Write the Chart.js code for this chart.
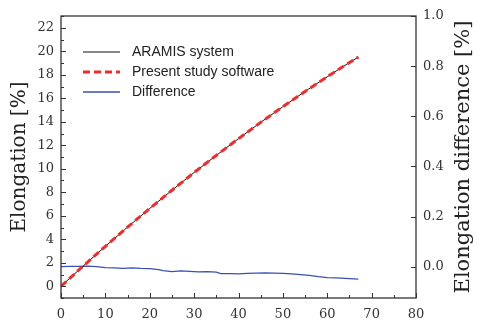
<!DOCTYPE html>
<html>
<head>
<meta charset="utf-8">
<script src="https://cdn.jsdelivr.net/npm/chart.js@4"></script>
<style>
  html, body { margin: 0; padding: 0; background: #fff; }
  #wrap { width: 477px; height: 321px; }
</style>
</head>
<body>
<div id="wrap"><canvas id="chart" width="477" height="321"></canvas></div>
<script>
// elongation curves (left axis, %)
const elongX = [0, 5, 10, 15, 20, 25, 30, 35, 40, 45, 50, 55, 60, 65, 67];
const aramis = [0, 1.72, 3.40, 5.03, 6.62, 8.17, 9.68, 11.14, 12.56, 13.95, 15.28, 16.58, 17.83, 19.04, 19.5];
const present = [0, 1.72, 3.40, 5.03, 6.62, 8.17, 9.68, 11.14, 12.56, 13.95, 15.28, 16.58, 17.83, 19.04, 19.5];

// difference (right axis, %)
const diffX = [0, 2, 4, 6, 8, 10, 12, 14, 16, 18, 20, 22, 23, 25, 27, 29, 31, 33, 35, 36, 38, 40, 42, 44, 46, 48, 50, 52, 54, 56, 58, 60, 62, 64, 66, 67];
const diffY = [0.000, 0.001, 0.001, 0.002, 0.000, -0.004, -0.005, -0.007, -0.005, -0.007, -0.008, -0.012, -0.016, -0.020, -0.017, -0.019, -0.021, -0.020, -0.022, -0.028, -0.028, -0.029, -0.027, -0.026, -0.025, -0.026, -0.027, -0.029, -0.032, -0.035, -0.040, -0.044, -0.045, -0.047, -0.049, -0.050];

const seriesLabels = ['ARAMIS system', 'Present study software', 'Difference'];
const leftTitle = 'Elongation [%]';
const rightTitle = 'Elongation difference [%]';

const serif = '"DejaVu Serif", serif';
const ink = '#333';

function pts(xs, ys) {
    return xs.map((x, i) => ({ x: x, y: ys[i] }));
}

// inward ticks, frame, axis titles and legend
const decorPlugin = {
    id: 'decor',
    afterDraw(chart) {
        const ctx = chart.ctx;
        const a = chart.chartArea;
        const sx = chart.scales.x, sy = chart.scales.y, sy2 = chart.scales.y2;
        ctx.save();
        ctx.strokeStyle = ink;
        ctx.lineWidth = 1;
        ctx.beginPath();
        for (let v = 0; v <= 80; v += 5) {
            const px = Math.round(sx.getPixelForValue(v)) + 0.5;
            const len = v % 10 === 0 ? 5 : 3;
            ctx.moveTo(px, a.bottom); ctx.lineTo(px, a.bottom - len);
        }
        for (let v = -1; v <= 23; v += 1) {
            const py = Math.round(sy.getPixelForValue(v)) + 0.5;
            const len = v % 2 === 0 ? 5 : 3;
            ctx.moveTo(a.left, py); ctx.lineTo(a.left + len, py);
        }
        for (let v = 0; v <= 1.0001; v += 0.2) {
            const py = Math.round(sy2.getPixelForValue(v)) + 0.5;
            ctx.moveTo(a.right, py); ctx.lineTo(a.right - 5, py);
        }
        ctx.stroke();

        ctx.lineWidth = 1.3;
        ctx.strokeRect(a.left, a.top, a.right - a.left, a.bottom - a.top);

        // axis titles
        ctx.fillStyle = '#222';
        ctx.textAlign = 'center';
        ctx.textBaseline = 'middle';
        const midY = (a.top + a.bottom) / 2;
        ctx.save();
        ctx.font = '20px ' + serif;
        ctx.translate(20, midY);
        ctx.rotate(-Math.PI / 2);
        ctx.fillText(leftTitle, 0, 0);
        ctx.restore();
        ctx.save();
        ctx.font = '21px ' + serif;
        ctx.translate(464, midY);
        ctx.rotate(-Math.PI / 2);
        ctx.fillText(rightTitle, 0, 0);
        ctx.restore();

        // legend
        ctx.font = '14px "Liberation Sans", Arial, sans-serif';
        ctx.textAlign = 'left';
        ctx.fillStyle = '#222';
        chart.data.datasets.forEach((ds, i) => {
            const y = 52 + i * 20;
            ctx.beginPath();
            ctx.strokeStyle = ds.borderColor;
            ctx.lineWidth = ds.borderWidth;
            ctx.setLineDash(ds.borderDash || []);
            ctx.moveTo(83, y); ctx.lineTo(120, y);
            ctx.stroke();
            ctx.setLineDash([]);
            ctx.fillText(ds.label, 132, y);
        });
        ctx.restore();
    }
};

new Chart(document.getElementById('chart'), {
    type: 'line',
    data: {
        datasets: [
            {
                label: seriesLabels[0],
                data: pts(elongX, aramis),
                borderColor: '#111',
                borderWidth: 1,
                pointRadius: 0,
                yAxisID: 'y',
                order: 2,
            },
            {
                label: seriesLabels[1],
                data: pts(elongX, present),
                borderColor: '#f42a2a',
                borderWidth: 3,
                borderDash: [7, 4],
                pointRadius: 0,
                yAxisID: 'y',
                order: 1,
            },
            {
                label: seriesLabels[2],
                data: pts(diffX, diffY),
                borderColor: '#3a4fb5',
                borderWidth: 1.3,
                pointRadius: 0,
                yAxisID: 'y2',
                order: 3,
            },
        ],
    },
    options: {
        responsive: false,
        animation: false,
        layout: { padding: { top: 16 } },
        plugins: { legend: { display: false }, tooltip: { enabled: false } },
        scales: {
            x: {
                type: 'linear',
                min: 0, max: 80,
                grid: { display: false, drawTicks: false },
                border: { display: false },
                ticks: { stepSize: 10, padding: 9, color: ink, font: { family: serif, size: 13 }, maxRotation: 0 },
                afterFit(s) { s.height = 23; },
            },
            y: {
                position: 'left',
                min: -1, max: 23,
                grid: { display: false, drawTicks: false },
                border: { display: false },
                ticks: {
                    stepSize: 1, padding: 7, color: ink, font: { family: serif, size: 13 },
                    callback: (v) => (v % 2 === 0 && v >= 0 && v <= 22 ? v : null),
                },
                afterFit(s) { s.width = 61; },
            },
            y2: {
                position: 'right',
                min: -0.125, max: 1.0,
                grid: { display: false, drawTicks: false },
                border: { display: false },
                ticks: {
                    stepSize: 0.2, padding: 7, color: ink, font: { family: serif, size: 13 },
                    callback: (v) => (v >= -0.001 ? v.toFixed(1) : null),
                },
                afterBuildTicks(s) {
                    s.ticks = [0, 0.2, 0.4, 0.6, 0.8, 1.0].map((v) => ({ value: v }));
                },
                afterFit(s) { s.width = 61; },
            },
        },
    },
    plugins: [decorPlugin],
});
</script>
</body>
</html>
